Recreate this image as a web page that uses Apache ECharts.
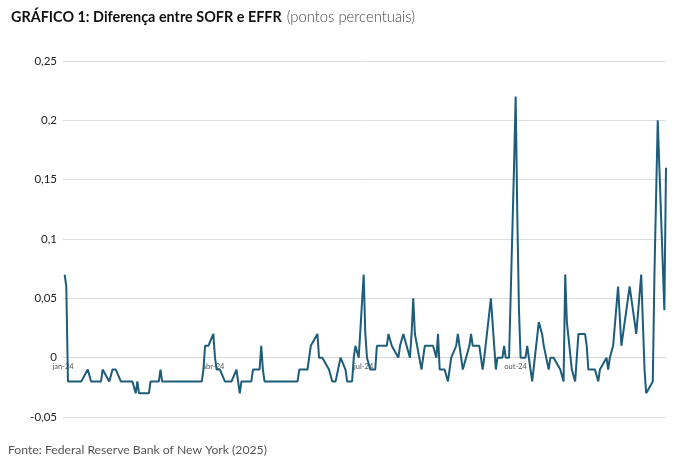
<!DOCTYPE html>
<html>
<head>
<meta charset="utf-8">
<script src="https://cdn.jsdelivr.net/npm/echarts@6/dist/echarts.min.js"></script>
<style>
  html, body { margin: 0; padding: 0; background: #fff; }
  #grafico1 { width: 683px; height: 467px; }
</style>
</head>
<body>
<div id="grafico1"></div>
<script>
// dias sem publicacao (fins de semana ja sao pulados)
var feriados = ['2024-01-01', '2024-01-15', '2024-02-19', '2024-05-27', '2024-06-19',
  '2024-07-04', '2024-09-02', '2024-10-14', '2024-11-11', '2024-11-28', '2024-12-25'];

// SOFR - EFFR, pontos percentuais, um valor por dia util de 2024
var diferenca = [
  // jan
  0.07, 0.06, -0.02, -0.02, -0.02, -0.02, -0.02, -0.02, -0.02, -0.01, -0.01, -0.02, -0.02,
  -0.02, -0.02, -0.02, -0.01, -0.01, -0.02, -0.02, -0.01,
  // fev
  -0.01, -0.01, -0.02, -0.02, -0.02, -0.02, -0.02, -0.02, -0.02, -0.03, -0.02, -0.03,
  -0.03, -0.03, -0.03, -0.02, -0.02, -0.02, -0.02, -0.01,
  // mar
  -0.02, -0.02, -0.02, -0.02, -0.02, -0.02, -0.02, -0.02, -0.02, -0.02, -0.02,
  -0.02, -0.02, -0.02, -0.02, -0.02, -0.02, -0.01, 0.01, 0.01, 0.01,
  // abr
  0.02, 0.00, -0.01, -0.01, -0.01, -0.02, -0.02, -0.02, -0.02, -0.02, -0.01,
  -0.02, -0.03, -0.02, -0.02, -0.02, -0.02, -0.02, -0.01, -0.01, -0.01, 0.01,
  // mai
  -0.01, -0.02, -0.02, -0.02, -0.02, -0.02, -0.02, -0.02, -0.02, -0.02, -0.02,
  -0.02, -0.02, -0.02, -0.02, -0.02, -0.01, -0.01, -0.01, 0.00, 0.01, 0.01,
  // jun
  0.02, 0.00, 0.00, 0.00, 0.00, -0.01, -0.01, -0.02, -0.02, -0.02,
  0.00, 0.00, -0.01, -0.02, -0.02, 0.00, 0.01, 0.01, 0.00,
  // jul
  0.07, 0.02, 0.00, -0.01, -0.01, 0.01, 0.01, 0.01, 0.01, 0.01, 0.02,
  0.02, 0.01, 0.01, 0.00, 0.01, 0.01, 0.02, 0.02, 0.00, 0.02, 0.05,
  // ago
  0.02, 0.02, -0.01, 0.00, 0.01, 0.01, 0.01, 0.01, 0.01, 0.00, 0.02,
  -0.01, -0.01, -0.01, -0.02, -0.02, 0.00, 0.01, 0.02, 0.01, 0.00, -0.01,
  // set
  0.01, 0.02, 0.01, 0.01, 0.01, 0.00, -0.01, 0.00, 0.00, 0.05,
  0.05, 0.01, -0.01, 0.00, 0.00, 0.01, 0.00, 0.00, 0.00, 0.16,
  // out
  0.22, 0.12, 0.04, 0.00, 0.00, 0.01, 0.00, -0.01, -0.02, 0.03, 0.03,
  0.02, 0.01, -0.01, 0.00, 0.00, 0.00, 0.00, -0.01, -0.01, -0.02, 0.07,
  // nov
  0.03, -0.01, -0.01, -0.02, 0.00, 0.02, 0.02, 0.01, -0.01, -0.01,
  -0.01, -0.01, -0.02, -0.01, -0.01, 0.00, -0.01, 0.00, 0.01,
  // dez
  0.06, 0.06, 0.01, 0.01, 0.03, 0.06, 0.05, 0.04, 0.04, 0.02, 0.07,
  0.03, -0.01, -0.03, -0.03, -0.02, 0.07, 0.20, 0.16, 0.04, 0.16
];

var meses = ['jan', 'fev', 'mar', 'abr', 'mai', 'jun', 'jul', 'ago', 'set', 'out', 'nov', 'dez'];
var rotulosX = ['2024-01-01', '2024-04-01', '2024-07-01', '2024-10-01'];
var rotulosY = [-0.05, 0, 0.05, 0.1, 0.15, 0.2, 0.25];

function pad(n) { return (n < 10 ? '0' : '') + n; }

function tempo(s) {
  var p = s.split('-');
  return new Date(+p[0], +p[1] - 1, +p[2]).getTime();
}

// dias uteis de 2024
var datas = [];
for (var d = new Date(2024, 0, 1); d.getFullYear() === 2024; d.setDate(d.getDate() + 1)) {
  var s = d.getFullYear() + '-' + pad(d.getMonth() + 1) + '-' + pad(d.getDate());
  if (d.getDay() === 0 || d.getDay() === 6 || feriados.indexOf(s) >= 0) continue;
  datas.push(s);
}

var serie = datas.map(function (s, i) { return [tempo(s), diferenca[i]]; });

var myChart = echarts.init(document.getElementById('grafico1'));
var option = {
  animation: false,
  backgroundColor: '#fff',
  title: {
    left: 6,
    top: 3,
    text: '{b|GRÁFICO 1: Diferença entre SOFR e EFFR} {l|(pontos percentuais)}',
    textStyle: {
      rich: {
        b: { fontFamily: 'Lato', fontWeight: 'bold', fontSize: 14.4, color: '#111' },
        l: { fontFamily: 'Lato', fontWeight: 300, fontSize: 14.8, color: '#444' }
      }
    }
  },
  graphic: [{
    type: 'text',
    left: 8,
    top: 444,
    style: {
      text: 'Fonte: Federal Reserve Bank of New York (2025)',
      fontFamily: 'Lato',
      fontSize: 12.2,
      fill: '#555'
    }
  }],
  grid: {
    left: 63,
    right: 17,
    top: 61,
    bottom: 50,
    containLabel: false
  },
  xAxis: {
    type: 'value',
    min: tempo('2024-01-01'),
    max: tempo('2024-12-31'),
    axisLine: {
      show: true,
      onZero: false,
      lineStyle: { color: '#d6d6d6', width: 1 }
    },
    axisTick: { show: false },
    splitLine: { show: false },
    axisLabel: {
      customValues: rotulosX.map(tempo),
      margin: 5,
      fontFamily: 'Lato',
      fontSize: 7.5,
      color: '#555',
      formatter: function (v) {
        var dt = new Date(v);
        return meses[dt.getMonth()] + '-' + String(dt.getFullYear()).slice(2);
      }
    }
  },
  yAxis: {
    type: 'value',
    min: rotulosY[0],
    max: rotulosY[rotulosY.length - 1],
    interval: 0.05,
    axisLine: { show: false },
    axisTick: { show: false },
    axisLabel: {
      margin: 6,
      fontFamily: 'Lato',
      fontSize: 11.5,
      color: '#222',
      formatter: function (v) {
        return String(Math.round(v * 100) / 100).replace('.', ',');
      }
    },
    splitLine: {
      lineStyle: { color: '#dedede', width: 1 }
    }
  },
  series: [{
    name: 'SOFR - EFFR',
    type: 'line',
    data: serie,
    showSymbol: false,
    symbol: 'none',
    lineStyle: { color: '#1d5d7a', width: 2 },
    itemStyle: { color: '#1d5d7a' }
  }]
};
myChart.setOption(option);

// leva o eixo de datas para a linha do zero
function eixoNoZero() {
  var yZero = myChart.convertToPixel({ yAxisIndex: 0 }, 0);
  var yBase = myChart.convertToPixel({ yAxisIndex: 0 }, rotulosY[0]);
  myChart.setOption({ xAxis: { offset: -(yBase - yZero) } });
}
eixoNoZero();

window.addEventListener('resize', function () {
  myChart.resize();
  eixoNoZero();
});
</script>
</body>
</html>
